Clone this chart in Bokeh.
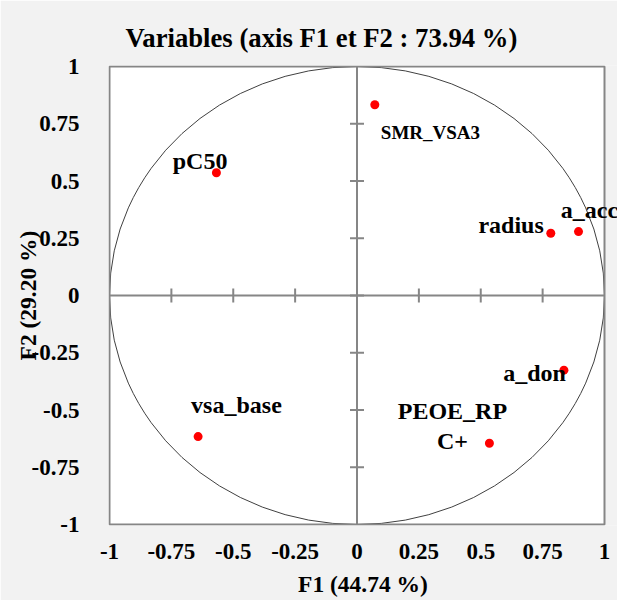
import numpy as np
from bokeh.plotting import figure
from bokeh.models import FixedTicker, Title, Range1d, Label
from bokeh.embed import file_html
from bokeh.resources import INLINE

# ---- data ----
variables = ["SMR_VSA3", "radius", "a_acc", "a_don", "PEOE_RP\nC+", "pC50", "vsa_base"]
f1 = [0.072, 0.783, 0.895, 0.836, 0.535, -0.568, -0.642]
f2 = [0.833, 0.272, 0.279, -0.326, -0.645, 0.536, -0.616]
tick_values = [-1, -0.75, -0.5, -0.25, 0, 0.25, 0.5, 0.75, 1]
tick_labels = ["-1", "-0.75", "-0.5", "-0.25", "0", "0.25", "0.5", "0.75", "1"]
title_text = "Variables (axis F1 et F2 : 73.94 %)"
x_label = "F1 (44.74 %)"
y_label = "F2 (29.20 %)"

# ---- label placement (screen px offsets from the point: right, down; alignment; font size) ----
placement = {
    "SMR_VSA3": (6, 28, "left", "19px"),
    "radius": (-7, -8, "right", "24px"),
    "a_acc": (11, -22, "center", "24px"),
    "a_don": (2, 3, "right", "24px"),
    "PEOE_RP\nC+": (-37, -17, "center", "24px"),
    "pC50": (11, -12, "right", "24px"),
    "vsa_base": (-7, -32, "left", "24px"),
}

FONT = "Liberation Serif"
GRAY = "#868686"
PX_X, PX_Y = 247.5, 229.0          # screen px per data unit
LO = min(tick_values)
HI = max(tick_values)
# the frame is a little larger than the [-1, 1] box so that labels can overflow it on the right
x_rng = Range1d(LO - 1 / PX_X, HI + 13 / PX_X)
y_rng = Range1d(LO - 1 / PX_Y, HI + 1 / PX_Y)

p = figure(width=617, height=600, x_range=x_rng, y_range=y_rng,
           output_backend="svg", toolbar_location=None,
           min_border_left=108, min_border_right=0,
           min_border_top=65, min_border_bottom=75,
           background_fill_color="#f2f2f2", border_fill_color="#f2f2f2",
           outline_line_color=None)

p.xgrid.visible = False
p.ygrid.visible = False

overrides = {v: s for v, s in zip(tick_values, tick_labels)}
for ax in (p.xaxis[0], p.yaxis[0]):
    ax.ticker = FixedTicker(ticks=tick_values)
    ax.major_label_overrides = overrides
    ax.axis_line_color = None
    ax.major_tick_line_color = None
    ax.minor_tick_line_color = None
    ax.major_tick_in = 0
    ax.major_tick_out = 0
    ax.major_label_text_font = FONT
    ax.major_label_text_font_style = "bold"
    ax.major_label_text_font_size = "23px"
    ax.major_label_text_color = "black"
    ax.axis_label_text_font = FONT
    ax.axis_label_text_font_style = "bold"
    ax.axis_label_text_font_size = "23.5px"
    ax.axis_label_text_color = "black"

p.xaxis[0].axis_label = x_label
p.yaxis[0].axis_label = y_label
p.xaxis[0].major_label_standoff = 18
p.xaxis[0].axis_label_standoff = 9
p.yaxis[0].major_label_standoff = 29
p.yaxis[0].axis_label_standoff = -12

p.title = Title(text=title_text, align="left", offset=17, standoff=26,
                text_font=FONT, text_font_style="bold", text_font_size="26.7px",
                text_color="black")

# plot box
p.quad(left=[LO], right=[HI], bottom=[LO], top=[HI], fill_color="white", line_color=None)

# central axes with cross ticks
p.segment(x0=[LO, 0], y0=[0, LO], x1=[HI, 0], y1=[0, HI], line_color=GRAY, line_width=2)
inner = tick_values[1:-1]
p.scatter(x=inner, y=[0] * len(inner), marker="dash", angle=np.pi / 2, size=14,
          line_color=GRAY, line_width=2)
p.scatter(x=[0] * len(inner), y=inner, marker="dash", size=14,
          line_color=GRAY, line_width=2)

# correlation circle
p.ellipse(x=[0], y=[0], width=[2], height=[2], fill_color=None,
          line_color="#404040", line_width=1)

# box outline
p.quad(left=[LO], right=[HI], bottom=[LO], top=[HI], fill_color=None,
       line_color=GRAY, line_width=2)

# points
p.scatter(x=f1, y=f2, size=9, fill_color="#ff0000", line_color=None)

for name, x, y in zip(variables, f1, f2):
    dx, dy, align, fs = placement[name]
    p.add_layout(Label(x=x, y=y, text=name, x_offset=dx, y_offset=-dy,
                       text_align=align, text_baseline="alphabetic",
                       text_font=FONT, text_font_style="bold",
                       text_font_size=fs, text_color="black",
                       text_line_height=1.15))

open("out.html", "w").write(file_html(p, INLINE))
